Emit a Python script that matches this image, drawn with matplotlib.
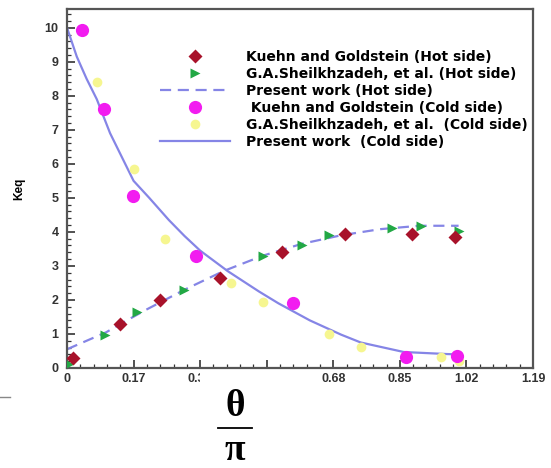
import matplotlib.pyplot as plt
from matplotlib.patches import Rectangle
from matplotlib.lines import Line2D
from matplotlib.ticker import AutoMinorLocator, FixedLocator

# Hot side
kuehn_hot_x = [0.015, 0.135, 0.237, 0.39, 0.55, 0.71, 0.88, 0.99]
kuehn_hot_y = [0.3, 1.3, 2.0, 2.65, 3.4, 3.95, 3.95, 3.85]
sheikh_hot_x = [0.005, 0.097, 0.18, 0.30, 0.50, 0.60, 0.67, 0.83, 0.905, 1.0]
sheikh_hot_y = [0.12, 0.97, 1.65, 2.3, 3.3, 3.6, 3.9, 4.1, 4.17, 4.03]
present_hot_x = [0.0, 0.05, 0.1, 0.15, 0.2, 0.3, 0.4, 0.5, 0.6, 0.7, 0.8, 0.9, 1.0]
present_hot_y = [0.55, 0.8, 1.05, 1.38, 1.7, 2.3, 2.85, 3.3, 3.65, 3.9, 4.08, 4.18, 4.18]

# Cold side
kuehn_cold_x = [0.038, 0.094, 0.168, 0.33, 0.577, 0.865, 0.997]
kuehn_cold_y = [9.94, 7.6, 5.05, 3.3, 1.9, 0.33, 0.35]
sheikh_cold_x = [0.04, 0.077, 0.17, 0.25, 0.42, 0.50, 0.67, 0.75, 0.955, 1.0]
sheikh_cold_y = [9.9, 8.4, 5.85, 3.8, 2.5, 1.95, 1.0, 0.62, 0.33, 0.2]
present_cold_x = [0.0, 0.025, 0.05, 0.076, 0.11, 0.14, 0.17, 0.21, 0.26, 0.30,
                  0.34, 0.41, 0.49, 0.54, 0.62, 0.70, 0.75, 0.86, 0.97, 1.0]
present_cold_y = [10.0, 9.15, 8.5, 7.9, 6.9, 6.2, 5.5, 5.0, 4.35, 3.88,
                  3.45, 2.85, 2.25, 1.9, 1.4, 0.98, 0.75, 0.47, 0.41, 0.4]

x_ticks = [0, 0.17, 0.34, 0.51, 0.68, 0.85, 1.02, 1.19]
x_tick_labels = ["0", "0.17", "0.34", "0.51", "0.68", "0.85", "1.02", "1.19"]
y_ticks = list(range(0, 11))

labels = [
    "Kuehn and Goldstein (Hot side)",
    "G.A.Sheilkhzadeh, et al. (Hot side)",
    "Present work (Hot side)",
    " Kuehn and Goldstein (Cold side)",
    "G.A.Sheilkhzadeh, et al.  (Cold side)",
    "Present work  (Cold side)",
]

RED = "#A8122A"
GREEN = "#22A845"
MAGENTA = "#F21CF0"
YELLOW = "#F6F690"
LINE = "#8585E6"

plt.rcParams["font.family"] = ["Liberation Sans", "DejaVu Sans"]

fig = plt.figure(figsize=(5.51, 4.68), dpi=100)
ax = fig.add_axes([67 / 551, 1 - 368 / 468, (533 - 67) / 551, (368 - 9) / 468])

ax.plot(present_hot_x, present_hot_y, color=LINE, lw=1.6, ls=(0, (5, 3)), zorder=2)
ax.plot(present_cold_x, present_cold_y, color=LINE, lw=1.6, zorder=2)
ax.plot(sheikh_cold_x, sheikh_cold_y, "o", color=YELLOW, ms=7, mec="none", zorder=3)
ax.plot(kuehn_cold_x, kuehn_cold_y, "o", color=MAGENTA, ms=9.5, mec="none", zorder=3)
ax.plot(sheikh_hot_x, sheikh_hot_y, ">", color=GREEN, ms=7.5, mec="none", zorder=4)
ax.plot(kuehn_hot_x, kuehn_hot_y, "D", color=RED, ms=6.8, mec="none", zorder=4)

ax.set_xlim(0, 1.19)
ax.set_ylim(0, 10.55)
ax.xaxis.set_major_locator(FixedLocator(x_ticks))
ax.set_xticklabels(x_tick_labels)
ax.set_yticks(y_ticks)
ax.xaxis.set_minor_locator(AutoMinorLocator(5))
ax.yaxis.set_minor_locator(AutoMinorLocator(5))
ax.tick_params(which="both", direction="in", colors="#333333", labelcolor="#333333",
               labelsize=9)
ax.tick_params(axis="y", pad=6)
ax.tick_params(which="major", length=6, width=1.2)
ax.tick_params(which="minor", length=3, width=0.9)
for lab in ax.get_xticklabels() + ax.get_yticklabels():
    lab.set_fontweight("bold")
for sp in ax.spines.values():
    sp.set_color("#555555")
    sp.set_linewidth(1.6)
ax.set_ylabel("Keq", fontsize=8.5, fontweight="bold", labelpad=14)

handles = [
    Line2D([], [], ls="none", marker="D", color=RED, ms=6.8, mec="none"),
    Line2D([], [], ls="none", marker=">", color=GREEN, ms=7.5, mec="none"),
    Line2D([], [], color=LINE, lw=1.6, ls=(0, (5, 3))),
    Line2D([], [], ls="none", marker="o", color=MAGENTA, ms=9.5, mec="none"),
    Line2D([], [], ls="none", marker="o", color=YELLOW, ms=7, mec="none"),
    Line2D([], [], color=LINE, lw=1.6),
]
ax.legend(handles, labels, loc="upper left", bbox_to_anchor=(0.2, 0.885),
          borderaxespad=0, borderpad=0, frameon=False, handlelength=5.0,
          handletextpad=1.2, labelspacing=0.21,
          prop={"size": 10, "weight": "bold", "family": "DejaVu Sans"})

# cover strip below the axis and the fraction label
fig.patches.append(Rectangle((200 / 551, 0), 80 / 551, 1 - 372 / 468,
                             transform=fig.transFigure, facecolor="white",
                             edgecolor="none", zorder=5))
fig.add_artist(Line2D([0, 10 / 551], [1 - 397 / 468] * 2, color="#888888", lw=1.0))
fig.text(235 / 551, 1 - 406 / 468, "θ", fontsize=27, ha="center", va="center",
         family="Liberation Serif", fontweight="bold", zorder=6)
fig.add_artist(Line2D([218 / 551, 252 / 551], [1 - 428 / 468] * 2, color="black",
                      lw=1.3, zorder=6))
fig.text(235 / 551, 1 - 451 / 468, "π", fontsize=27, ha="center", va="center",
         family="Liberation Serif", fontweight="bold", zorder=6)

fig.savefig("out.png", dpi=100)
